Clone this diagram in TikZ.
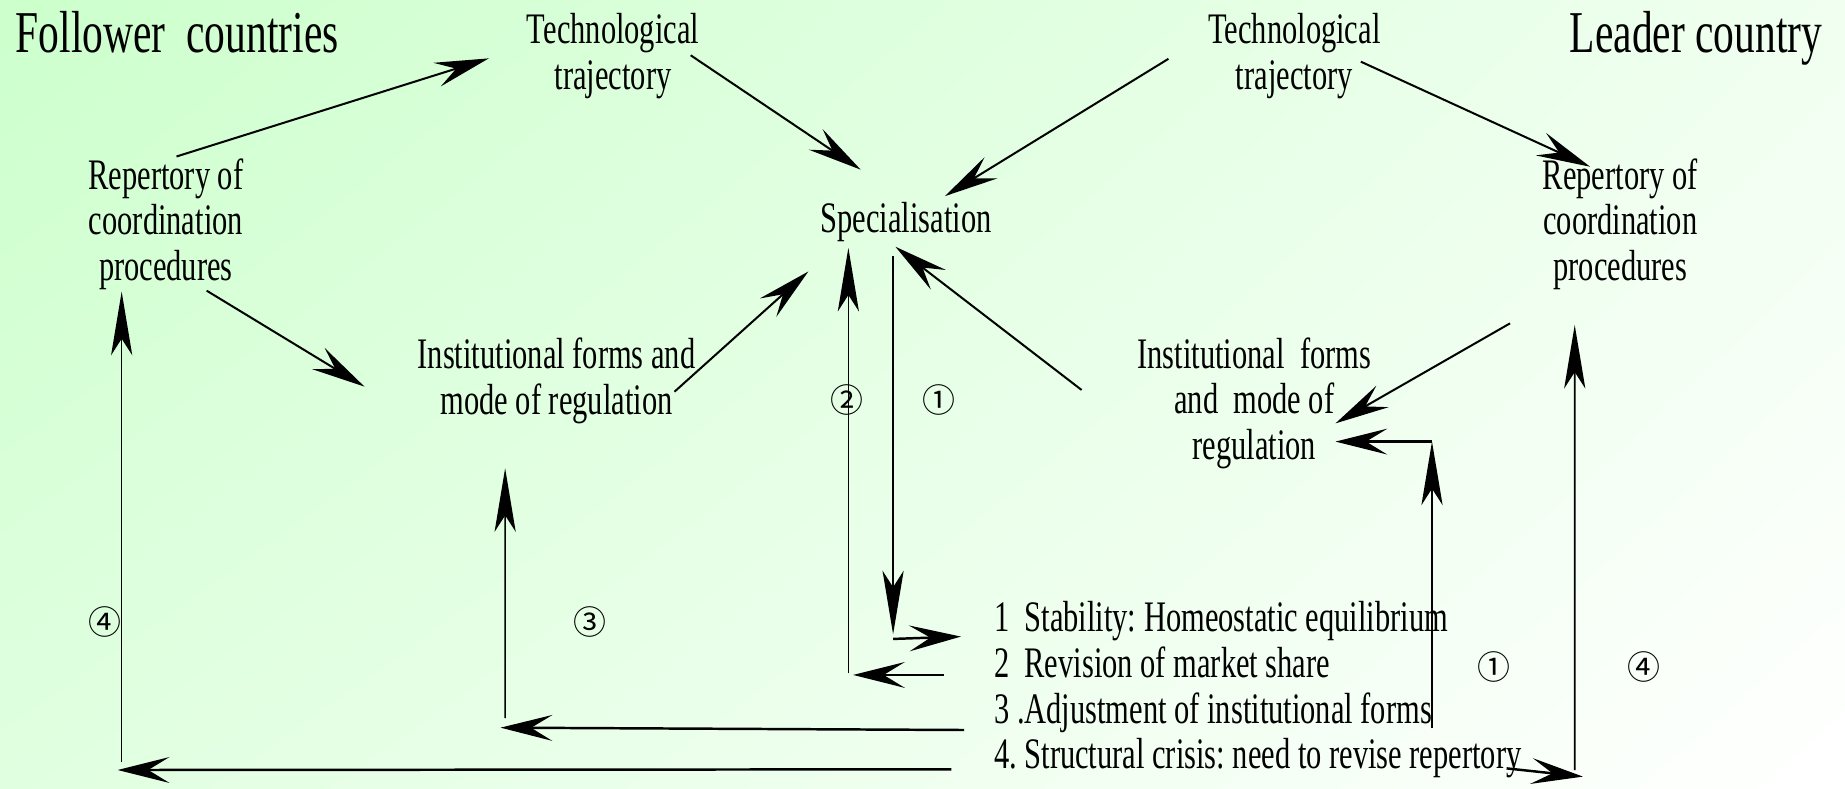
\documentclass[tikz,border=0pt]{standalone}
\usepackage{fontspec}
\setmainfont{Liberation Serif}[FakeStretch=0.70]
\newfontfamily\circfont{Noto Sans CJK SC}
\usetikzlibrary{calc}
\usetikzlibrary{arrows.meta}
\usetikzlibrary{shadings}
\definecolor{bgTL}{RGB}{204,255,204}
\definecolor{bgTR}{RGB}{240,255,240}
\definecolor{bgBL}{RGB}{224,255,224}
\tikzstyle{txt}=[inner sep=0pt,align=center,font=\fontsize{18.5}{19.25}\selectfont]
\tikzstyle{bigtxt}=[inner sep=0pt,font=\fontsize{25.2}{26}\selectfont]
\tikzstyle{listtxt}=[inner sep=0pt,anchor=base west,font=\fontsize{18.5}{19.25}\selectfont]
\tikzstyle{circnum}=[inner sep=0pt,font=\circfont\fontsize{14}{14}\selectfont]
\tikzstyle{arrslant}=[line width=0.85pt,-{Stealth[length=23pt,width=10.5pt,inset=8.5pt]}]
\tikzstyle{arrup}=[line width=0.65pt,-{Stealth[length=27pt,width=9pt,inset=7pt]}]
\tikzstyle{arrflat}=[line width=1.05pt,-{Stealth[length=22pt,width=11pt,inset=9pt]}]
\begin{document}
\frenchspacing
\begin{tikzpicture}[x=0.5pt,y=-0.5pt]
\useasboundingbox (0,0) rectangle (1568,670);
\shade[upper left=bgTL,upper right=bgTR,lower left=bgBL,lower right=white] (0,0) rectangle (1568,670);
% headings
\node[bigtxt,anchor=base west] (follower) at (13,45) {Follower~ countries};
\node[bigtxt,anchor=base east] (leader) at (1549,45) {Leader country};
% text blocks
\node[txt] (techL) at (521,47.6) {Technological\\trajectory};
\node[txt] (techR) at (1100,47.6) {Technological\\trajectory};
\node[txt] (repL) at (141,190.5) {Repertory of\\coordination\\procedures};
\node[txt] (repR) at (1377,190.5) {Repertory of\\coordination\\procedures};
\node[txt,anchor=base] (spec) at (770,198) {Specialisation};
\node[txt] (instL) at (473,323.6) {Institutional forms and\\mode of regulation};
\node[txt] (instR) at (1066,342.8) {Institutional~ forms\\and~ mode of\\regulation};
\node[listtxt] (l1) at (844.5,537) {1~ Stability: Homeostatic equilibrium};
\node[listtxt] (l2) at (844.5,576) {2~ Revision of market share};
\node[listtxt] (l3) at (844.5,614.5) {3 .Adjustment of institutional forms};
\node[listtxt] (l4) at (844.5,653) {4. Structural crisis: need to revise repertory};
% loop numbers
\node[circnum] (n2) at (719.5,340) {②};
\node[circnum] (n1a) at (798,340) {①};
\node[circnum] (n4L) at (89.5,528.5) {④};
\node[circnum] (n3) at (501.5,528.5) {③};
\node[circnum] (n1b) at (1270,567) {①};
\node[circnum] (n4R) at (1397,567) {④};
% corners of the feedback loops
\coordinate (turn1) at (759,539);
\coordinate (turn2) at (721,573.6);
\coordinate (foot3) at (429.3,618.4);
\coordinate (foot4L) at (103.4,654.4);
\coordinate (foot1R) at (1217,619);
\coordinate (turn1R) at (1217,375.3);
\coordinate (foot4R) at (1338.3,654.4);
% upper part
\draw[arrslant] ($(repL.center)+(9,-57.5)$) -- ($(techL.center)+(-105.6,2)$);
\draw[arrslant] ($(techL.center)+(66,-0.6)$) -- ($(spec.center)+(-38.5,-44.9)$);
\draw[arrslant] ($(techR.center)+(-107,2.4)$) -- ($(spec.center)+(33,-22.4)$);
\draw[arrslant] ($(techR.center)+(56.5,4.8)$) -- ($(repR.center)+(-25.6,-48.8)$);
\draw[arrslant] ($(repL.center)+(34.6,56.5)$) -- ($(instL.center)+(-163.2,5)$);
\draw[arrslant] ($(instL.center)+(100.2,9.3)$) -- ($(spec.center)+(-83,41.6)$);
\draw[arrslant] ($(instR.center)+(-146.8,-11.4)$) -- ($(spec.center)+(-9,20.6)$);
\draw[arrslant] ($(repR.center)+(-93.7,84.3)$) -- ($(instR.center)+(69,17)$);
% loops 1 and 2
\draw[arrup] ($(spec.center)+(-11,28.6)$) -- (turn1);
\draw[arrflat] ($(turn1)+(0,4)$) -- ($(l1.base west)+(-27.8,4)$);
\draw[arrflat] ($(l2.base west)+(-42.3,-2.4)$) -- ($(turn2)+(4,0)$);
\draw[arrup] ($(turn2)+(0,-1.4)$) -- ($(spec.center)+(-49,21.6)$);
% loops 3 and 4
\draw[arrflat] ($(l3.base west)+(-25.1,5.9)$) -- ($(foot3)+(-3.9,0)$);
\draw[arrup] ($(foot3)+(0,-8)$) -- ($(instL.center)+(-43.7,74.4)$);
\draw[arrflat] ($(l4.base west)+(-35.9,0.8)$) -- ($(foot4L)+(-3.4,0)$);
\draw[arrup] ($(foot4L)+(0,-6.4)$) -- ($(repL.center)+(-37.6,57.4)$);
% leader side
\draw[arrup] (foot1R) -- (turn1R);
\draw[arrflat] (turn1R) -- ($(instR.center)+(69,32.5)$);
\draw[arrup] (foot4R) -- ($(repR.center)+(-38.7,85.7)$);
\draw[arrflat] ($(l4.base east)+(-13,0)$) -- ($(foot4R)+(7,5.6)$);
\end{tikzpicture}
\end{document}
